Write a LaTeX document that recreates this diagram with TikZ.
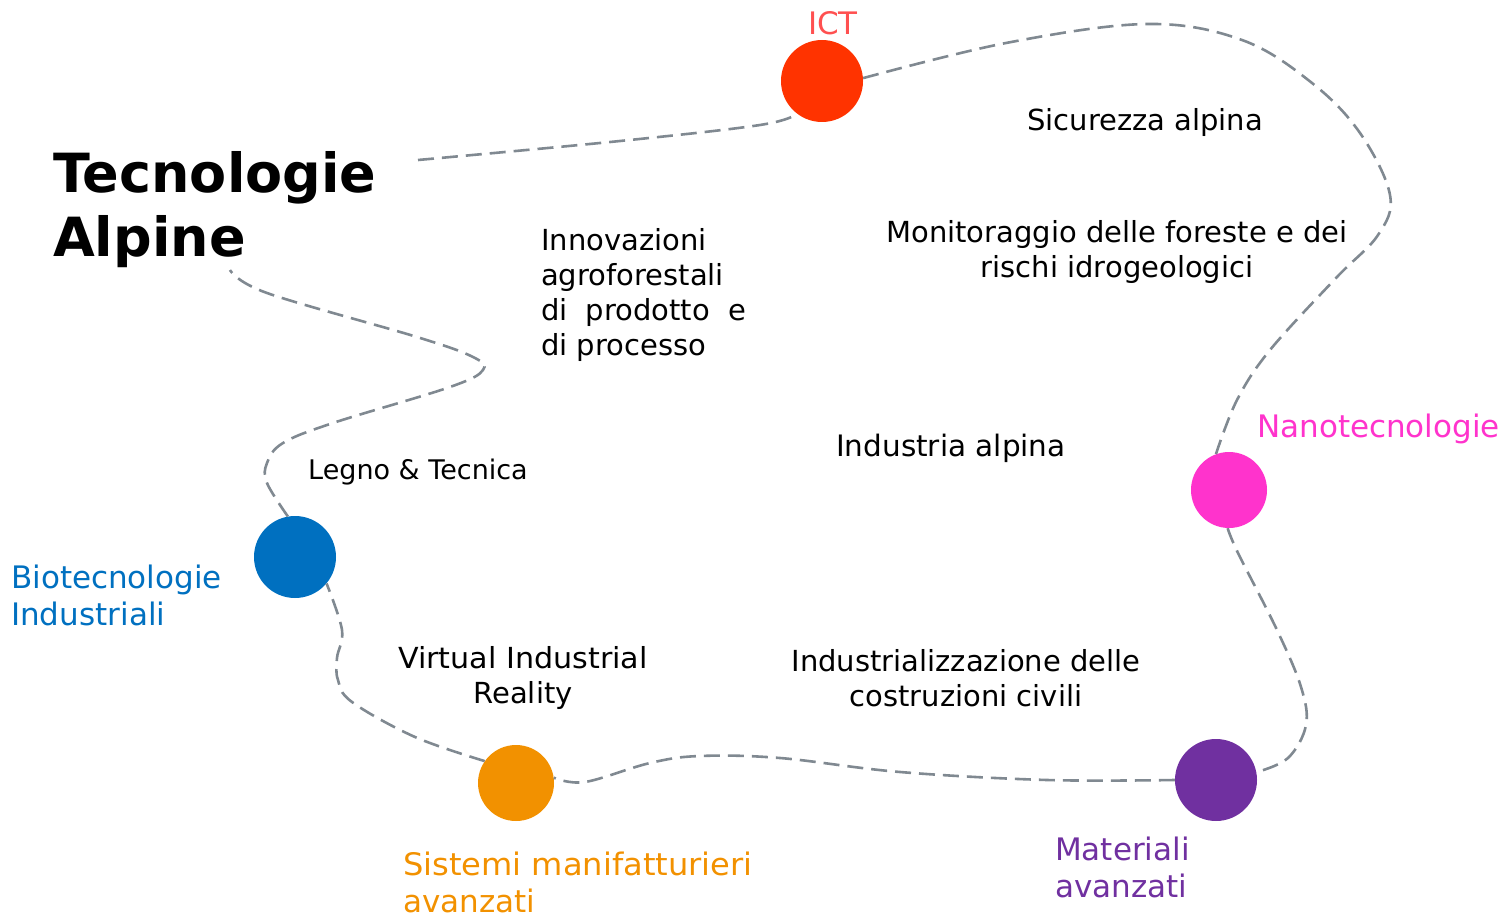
\documentclass[tikz,border=0pt]{standalone}
\usepackage{graphicx}
\usepackage{fontspec}
\setmainfont{DejaVu Sans}
\definecolor{linegray}{RGB}{128,137,145}
\definecolor{ictred}{RGB}{255,51,0}
\definecolor{ictlab}{RGB}{255,80,80}
\definecolor{nanomag}{RGB}{255,51,204}
\definecolor{bioblue}{RGB}{0,112,192}
\definecolor{sisorange}{RGB}{242,145,0}
\definecolor{matpurple}{RGB}{112,48,160}
\begin{document}
\begin{tikzpicture}[x=1pt,y=-1pt,
  trail/.style={draw=linegray, line width=2.6pt, dash pattern=on 16pt off 8pt},
  bubble/.style={circle, inner sep=0pt, minimum size=#1},
  fs/.style 2 args={font=\fontsize{#1}{#2}\selectfont, inner sep=0pt},
  body/.style={fs={29}{35}, text=black},
  clabel/.style={fs={31}{37}, align=left, anchor=base west}]
\useasboundingbox (0,0) rectangle (1506,917);

% circles
\node[bubble=82pt, fill=ictred] (ict) at (822,81) {};
\node[bubble=76pt, fill=nanomag] (nano) at (1229,490) {};
\node[bubble=82pt, fill=bioblue] (bio) at (295,557) {};
\node[bubble=76pt, fill=sisorange] (sis) at (516,783) {};
\node[bubble=82pt, fill=matpurple] (mat) at (1216,780) {};

% title
\node[inner sep=0pt, font=\fontsize{54}{64}\selectfont\bfseries, align=left, anchor=base west] (title) at (53,257) {Tecnologie\\Alpine};
\coordinate (t1) at (418,160);
\coordinate (t2) at (230,270);

% dashed loop
\draw[trail] plot[smooth, tension=0.6] coordinates {(t1) (620,141) (760,125) (ict.233)};
\draw[trail] plot[smooth, tension=0.6] coordinates {(ict.4) (1006,43) (1147,24) (1242,40) (1312,83) (1360,133) (1390,195) (1378,235) (1336,278) (1270,350) (1237,400) (nano.110)};
\draw[trail] plot[smooth, tension=0.6] coordinates {(nano.-92) (1238,553) (1277,630) (1301,687) (1306,725) (1288,758) (mat.11)};
\draw[trail] plot[smooth, tension=0.6] coordinates {(mat.180) (1047,780) (900,772) (780,758) (700,756) (650,763) (585,782) (sis.8)};
\draw[trail] plot[smooth, tension=0.6] coordinates {(sis.145) (415,737) (352,702) (338,680) (337,658) (342,630) (bio.-40)};
\draw[trail] plot[smooth, tension=0.6] coordinates {(bio.100) (267,483) (267,463) (283,443) (333,423) (450,387) (483,370) (473,357) (417,337) (267,293) (t2)};

% coloured labels
\node[fs={31}{37}, text=ictlab, anchor=base] (lict) at (833,35) {ICT};
\node[clabel, text=nanomag] (lnano) at (1257,437) {Nanotecnologie};
\node[clabel, text=bioblue] (lbio) at (11,625) {Biotecnologie\\Industriali};
\node[clabel, text=sisorange] (lsis) at (403,912) {\scalebox{1.036}[1]{Sistemi manifatturieri}\\avanzati};
\node[clabel, text=matpurple] (lmat) at (1055,897) {Materiali\\avanzati};

% black texts
\node[body, anchor=base west] (sic) at (1027,131) {Sicurezza alpina};
\node[body, align=center, anchor=base] (mon) at (1117,277) {Monitoraggio delle foreste e dei\\rischi idrogeologici};
\node[body, align=left, anchor=base west] (inn) at (541,355) {Innovazioni\\agroforestali\\\makebox[205pt]{di\hfill prodotto\hfill e}\\di processo};
\node[body, font=\fontsize{29.5}{35}\selectfont, anchor=base west] (ind) at (836,456) {Industria alpina};
\node[fs={27}{31}, anchor=base west] (leg) at (308,479) {Legno \& Tecnica};
\node[body, align=center, anchor=base] (vir) at (523,703) {\scalebox{1.04}[1]{Virtual Industrial}\\Reality};
\node[body, align=center, anchor=base] (civ) at (966,706) {Industrializzazione delle\\costruzioni civili};
\end{tikzpicture}
\end{document}
